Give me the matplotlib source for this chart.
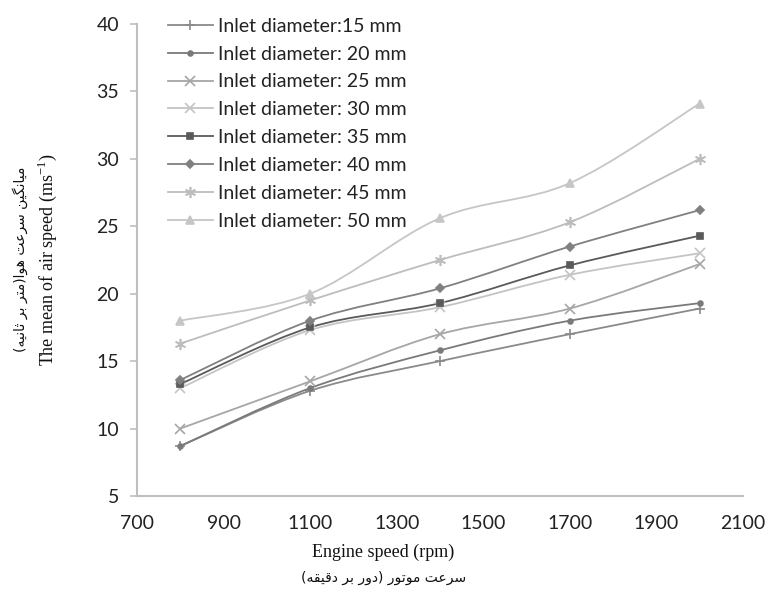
import numpy as np
import matplotlib
matplotlib.use('Agg')
import matplotlib.pyplot as plt
from matplotlib.path import Path
from matplotlib.patches import PathPatch
from matplotlib.lines import Line2D

RPM = [800, 1100, 1400, 1700, 2000]

D15 = [8.7, 12.8, 15.0, 17.0, 18.9]
D20 = [8.7, 13.0, 15.8, 18.0, 19.3]
D25 = [10.0, 13.5, 17.0, 18.9, 22.2]
D30 = [13.0, 17.3, 19.0, 21.4, 23.0]
D35 = [13.3, 17.5, 19.3, 22.1, 24.3]
D40 = [13.6, 18.0, 20.4, 23.5, 26.2]
D45 = [16.3, 19.5, 22.5, 25.3, 30.0]
D50 = [18.0, 20.0, 25.6, 28.2, 34.1]

LABELS = ['Inlet diameter:15 mm', 'Inlet diameter: 20 mm', 'Inlet diameter: 25 mm',
          'Inlet diameter: 30 mm', 'Inlet diameter: 35 mm', 'Inlet diameter: 40 mm',
          'Inlet diameter: 45 mm', 'Inlet diameter: 50 mm']
SERIES = [D15, D20, D25, D30, D35, D40, D45, D50]

X_TICKS = [700, 900, 1100, 1300, 1500, 1700, 1900, 2100]
Y_TICKS = [5, 10, 15, 20, 25, 30, 35, 40]

STYLES = [  # color, marker, markersize
    ('#8a8a8a', '+', 7),
    ('#7a7a7a', 'o', 3.5),
    ('#a6a6a6', 'x', 7),
    ('#c4c4c4', 'x', 7),
    ('#5a5a5a', 's', 4.5),
    ('#808080', 'D', 4),
    ('#bdbdbd', (6, 2, 0), 8),
    ('#c6c6c6', '^', 5.5),
]

# ---- tiny persian shaper (matplotlib has no bidi / joining) ----
FORMS = {  # iso, fin, ini, med
    'ا': ('\uFE8D', '\uFE8E', None, None),
    'ب': ('\uFE8F', '\uFE90', '\uFE91', '\uFE92'),
    'ت': ('\uFE95', '\uFE96', '\uFE97', '\uFE98'),
    'ث': ('\uFE99', '\uFE9A', '\uFE9B', '\uFE9C'),
    'د': ('\uFEA9', '\uFEAA', None, None),
    'ر': ('\uFEAD', '\uFEAE', None, None),
    'س': ('\uFEB1', '\uFEB2', '\uFEB3', '\uFEB4'),
    'ع': ('\uFEC9', '\uFECA', '\uFECB', '\uFECC'),
    'ق': ('\uFED5', '\uFED6', '\uFED7', '\uFED8'),
    'م': ('\uFEE1', '\uFEE2', '\uFEE3', '\uFEE4'),
    'ن': ('\uFEE5', '\uFEE6', '\uFEE7', '\uFEE8'),
    'ه': ('\uFEE9', '\uFEEA', '\uFEEB', '\uFEEC'),
    'و': ('\uFEED', '\uFEEE', None, None),
    'ی': ('\uFBFC', '\uFBFD', '\uFBFE', '\uFBFF'),
    'گ': ('\uFB92', '\uFB93', '\uFB94', '\uFB95'),
}

def shape_fa(s):
    out = []
    for i, ch in enumerate(s):
        if ch not in FORMS:
            out.append(ch)
            continue
        prev = s[i-1] if i > 0 else ''
        nxt = s[i+1] if i+1 < len(s) else ''
        jp = prev in FORMS and FORMS[prev][2] is not None
        jn = FORMS[ch][2] is not None and nxt in FORMS
        f = FORMS[ch]
        if jp and jn:
            out.append(f[3])
        elif jp:
            out.append(f[1])
        elif jn:
            out.append(f[2])
        else:
            out.append(f[0])
    vis = ''.join(out)[::-1]
    return vis.translate(str.maketrans('()', ')('))

def smooth_path(x, y):
    # excel-like smoothed line: bezier segments, catmull-rom control points
    x = np.asarray(x, float); y = np.asarray(y, float)
    n = len(x)
    verts = [(x[0], y[0])]
    codes = [Path.MOVETO]
    for i in range(n - 1):
        i0 = max(i - 1, 0); i3 = min(i + 2, n - 1)
        c1 = (x[i] + (x[i+1] - x[i0]) / 6, y[i] + (y[i+1] - y[i0]) / 6)
        c2 = (x[i+1] - (x[i3] - x[i]) / 6, y[i+1] - (y[i3] - y[i]) / 6)
        verts += [c1, c2, (x[i+1], y[i+1])]
        codes += [Path.CURVE4] * 3
    return Path(verts, codes)

fig = plt.figure(figsize=(7.67, 5.97), dpi=100)
ax = fig.add_axes([0.1786, 0.1692, 0.79, 0.7906])

handles = []
for vals, (col, mk, ms) in zip(SERIES, STYLES):
    ax.add_patch(PathPatch(smooth_path(RPM, vals), facecolor='none', edgecolor=col, lw=1.3))
    ax.plot(RPM, vals, linestyle='none', marker=mk, color=col, ms=ms, mew=1.2)
    handles.append(Line2D([], [], color=col, lw=1.3, marker=mk, ms=ms, mew=1.2))

ax.set_xlim(700, 2100)
ax.set_ylim(5, 40)
ax.set_xticks(X_TICKS)
ax.set_yticks(Y_TICKS)

for sp in ['top', 'right']:
    ax.spines[sp].set_visible(False)
for sp in ['left', 'bottom']:
    ax.spines[sp].set_color('#bfbfbf')
    ax.spines[sp].set_linewidth(1.5)
ax.tick_params(axis='x', length=0, pad=14, labelsize=14, labelcolor='#222222')
ax.tick_params(axis='y', length=5, width=1.2, color='#bfbfbf', pad=8, labelsize=14, labelcolor='#222222')
for t in ax.get_xticklabels() + ax.get_yticklabels():
    t.set_fontfamily('Lato')

leg = ax.legend(handles, LABELS, loc='upper left', bbox_to_anchor=(0.038, 1.03),
                frameon=False, handlelength=2.3, handletextpad=0.3, labelspacing=0.56,
                borderaxespad=0, prop={'family': 'Lato', 'size': 14})
for t in leg.get_texts():
    t.set_color('#222222')

fig.text(0.5, 0.074, 'Engine speed (rpm)', ha='center', va='center',
         family='Liberation Serif', size=13, color='#111111')
fig.text(0.5, 0.032, shape_fa('سرعت موتور (دور بر دقیقه)'), ha='center', va='center',
         family='DejaVu Sans', size=10, color='#111111')
fig.text(0.062, 0.565, r'The mean of air speed (ms$^{\mathregular{-1}}$)', rotation=90, ha='center', va='center',
         family='Liberation Serif', size=13, color='#111111')
fig.text(0.026, 0.565, shape_fa('میانگین سرعت هوا(متر بر ثانیه)'), rotation=90, ha='center',
         va='center', family='DejaVu Sans', size=10, color='#111111')

fig.savefig('out.png', dpi=100)
